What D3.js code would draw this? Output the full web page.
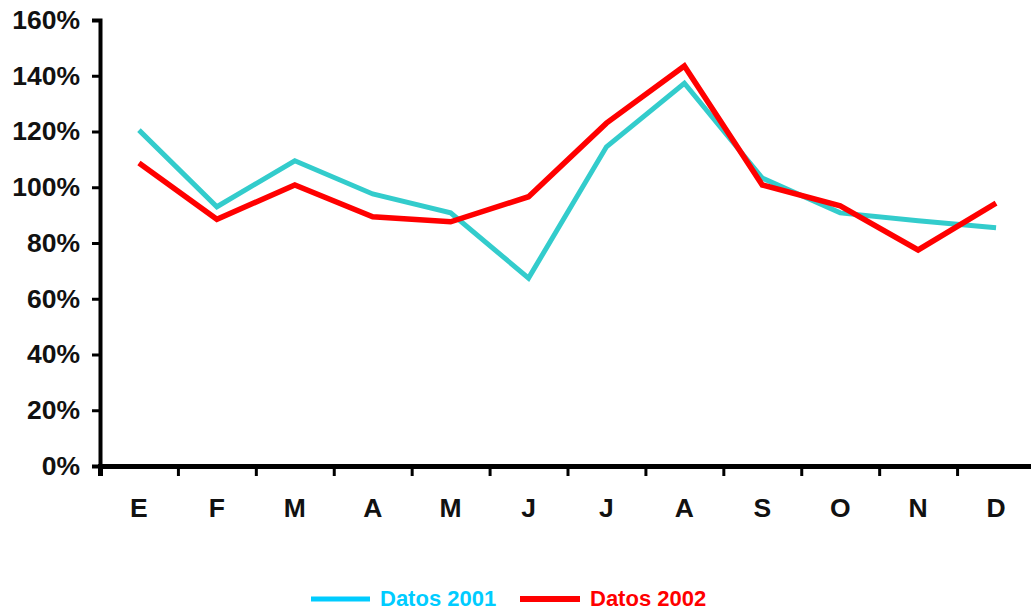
<!DOCTYPE html>
<html>
<head>
<meta charset="utf-8">
<script src="https://cdn.jsdelivr.net/npm/d3@7"></script>
<style>
  html, body { margin: 0; padding: 0; background: #fff; }
  svg { display: block; font-family: "Liberation Sans", Arial, sans-serif; }
</style>
</head>
<body>
<svg id="chart" width="1031" height="611"></svg>
<script>
const months = ["E", "F", "M", "A", "M", "J", "J", "A", "S", "O", "N", "D"];
const datos2001 = [1.205, 0.93, 1.095, 0.976, 0.908, 0.674, 1.145, 1.373, 1.033, 0.908, 0.88, 0.855];
const datos2002 = [1.087, 0.885, 1.008, 0.894, 0.876, 0.966, 1.23, 1.435, 1.008, 0.933, 0.775, 0.943];
const yTicks = [0, 0.2, 0.4, 0.6, 0.8, 1.0, 1.2, 1.4, 1.6];
const seriesNames = ["Datos 2001", "Datos 2002"];

const svg = d3.select("#chart");
const plotLeft = 100, plotRight = 1035, plotTop = 20, plotBottom = 466;

const x = d3.scaleBand().domain(d3.range(months.length)).range([plotLeft, plotRight]).paddingInner(0).paddingOuter(0);
const xEdge = d3.scaleLinear().domain([0, months.length]).range([plotLeft, plotRight]);
const y = d3.scaleLinear().domain([0, 1.6]).range([plotBottom, plotTop]);

// Y axis
const yAxis = svg.append("g").attr("transform", `translate(${plotLeft},0)`)
  .call(d3.axisLeft(y).tickValues(yTicks).tickFormat(d3.format(".0%")).tickSizeOuter(0).tickSize(8).tickPadding(12));
yAxis.select(".domain").attr("stroke", "#000").attr("stroke-width", 4);
yAxis.selectAll(".tick line").attr("stroke", "#000").attr("stroke-width", 3);
yAxis.selectAll(".tick text").attr("font-size", 26.5).attr("font-weight", "bold").attr("fill", "#111")
  .attr("font-family", "'Liberation Sans', Arial, sans-serif");

// X axis (ticks at band edges)
const xAxis = svg.append("g").attr("transform", `translate(0,${plotBottom})`)
  .call(d3.axisBottom(xEdge).tickValues(d3.range(0, months.length + 1)).tickFormat("").tickSizeOuter(0).tickSize(10));
xAxis.select(".domain").attr("stroke", "#000").attr("stroke-width", 5);
xAxis.selectAll(".tick line").attr("stroke", "#000").attr("stroke-width", 3);

// X labels
svg.append("g").selectAll("text").data(months).join("text")
  .attr("x", (d, i) => x(i) + x.bandwidth() / 2)
  .attr("y", 517)
  .attr("text-anchor", "middle")
  .attr("font-size", 26.5).attr("font-weight", "bold").attr("fill", "#111")
  .text(d => d);

// Lines
const line = d3.line().x((d, i) => x(i) + x.bandwidth() / 2).y(d => y(d));
svg.append("path").datum(datos2001).attr("d", line)
  .attr("fill", "none").attr("stroke", "#33CCCC").attr("stroke-width", 5).attr("stroke-linejoin", "miter");
svg.append("path").datum(datos2002).attr("d", line)
  .attr("fill", "none").attr("stroke", "#FF0000").attr("stroke-width", 5.5).attr("stroke-linejoin", "miter");

// Legend
const legend = svg.append("g");
const legItems = [
  {name: seriesNames[0], line: "#00CCFF", text: "#00CCFF", x0: 311, x1: 370, tx: 380, w: 5},
  {name: seriesNames[1], line: "#FF0000", text: "#FF0000", x0: 520, x1: 580, tx: 590, w: 6}
];
legItems.forEach(it => {
  legend.append("line").attr("x1", it.x0).attr("x2", it.x1).attr("y1", 599).attr("y2", 599)
    .attr("stroke", it.line).attr("stroke-width", it.w);
  legend.append("text").attr("x", it.tx).attr("y", 606)
    .attr("font-size", 22).attr("font-weight", "bold").attr("fill", it.text).text(it.name);
});
</script>
</body>
</html>
